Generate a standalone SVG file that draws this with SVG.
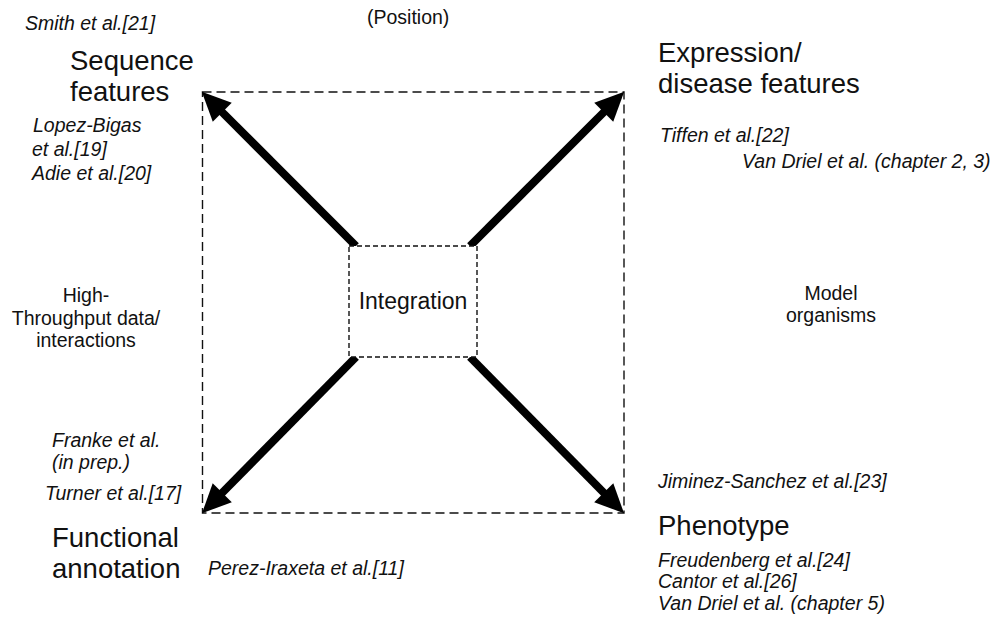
<svg xmlns="http://www.w3.org/2000/svg" width="999" height="627" viewBox="0 0 999 627">
  <style>
    text { font-family: "Liberation Sans", Arial, sans-serif; fill: #111; }
    .big { font-size: 27.5px; }
    .mid { font-size: 19.5px; }
    .ref { font-size: 19.5px; font-style: italic; }
    .frame { fill: none; stroke: #111; stroke-width: 1.4; stroke-dasharray: 9 5; }
    .core { fill: #fff; stroke: #111; stroke-width: 1.4; stroke-dasharray: 5 3; }
    .shaft { stroke: #000; stroke-width: 8; fill: none; marker-end: url(#head); }
  </style>
  <defs>
    <marker id="head" markerUnits="userSpaceOnUse" markerWidth="30" markerHeight="30" viewBox="0 -13 28 26" refX="1" refY="0" orient="auto" overflow="visible">
      <path d="M0,-12.5 L27,0 L0,12.5 z" fill="#000"/>
    </marker>
  </defs>

  <rect width="999" height="627" fill="#fff"/>

  <!-- outer dashed frame -->
  <rect class="frame" x="202.5" y="92" width="421.5" height="421"/>

  <!-- connectors from the integration box to the four corners -->
  <g id="connectors">
    <line class="shaft" x1="356" y1="246" x2="221.5" y2="111.5"/>
    <line class="shaft" x1="470" y1="246" x2="604.5" y2="111.5"/>
    <line class="shaft" x1="356" y1="357" x2="221.5" y2="493.5"/>
    <line class="shaft" x1="470" y1="357" x2="604.5" y2="493.5"/>
  </g>

  <g id="integration">
    <rect class="core" x="349" y="246" width="128" height="111"/>
    <text x="413" y="309" font-size="23" text-anchor="middle">Integration</text>
  </g>

  <g id="position">
    <text class="mid" x="367" y="24">(Position)</text>
  </g>

  <g id="sequence">
    <text class="big" x="70" y="70">Sequence</text>
    <text class="big" x="70" y="101">features</text>
    <text class="ref" x="25" y="30">Smith et al.[21]</text>
    <text class="ref" x="33" y="132">Lopez-Bigas</text>
    <text class="ref" x="32" y="156">et al.[19]</text>
    <text class="ref" x="32" y="180">Adie et al.[20]</text>
  </g>

  <g id="expression">
    <text class="big" x="658" y="62">Expression/</text>
    <text class="big" x="658" y="93">disease features</text>
    <text class="ref" x="660" y="142">Tiffen et al.[22]</text>
    <text class="ref" x="742" y="168">Van Driel et al. (chapter 2, 3)</text>
  </g>

  <g id="high-throughput">
    <text class="mid" x="86" y="302" text-anchor="middle">High-</text>
    <text class="mid" x="86" y="325" text-anchor="middle">Throughput data/</text>
    <text class="mid" x="86" y="347" text-anchor="middle">interactions</text>
  </g>

  <g id="model-organisms">
    <text class="mid" x="831" y="300" text-anchor="middle">Model</text>
    <text class="mid" x="831" y="322" text-anchor="middle">organisms</text>
  </g>

  <g id="functional">
    <text class="big" x="52" y="547">Functional</text>
    <text class="big" x="52" y="578">annotation</text>
    <text class="ref" x="52" y="447">Franke et al.</text>
    <text class="ref" x="52" y="469">(in prep.)</text>
    <text class="ref" x="45" y="500">Turner et al.[17]</text>
    <text class="ref" x="208" y="575">Perez-Iraxeta et al.[11]</text>
  </g>

  <g id="phenotype">
    <text class="big" x="658" y="535">Phenotype</text>
    <text class="ref" x="658" y="488">Jiminez-Sanchez et al.[23]</text>
    <text class="ref" x="658" y="567">Freudenberg et al.[24]</text>
    <text class="ref" x="658" y="588">Cantor et al.[26]</text>
    <text class="ref" x="658" y="610">Van Driel et al. (chapter 5)</text>
  </g>
</svg>
